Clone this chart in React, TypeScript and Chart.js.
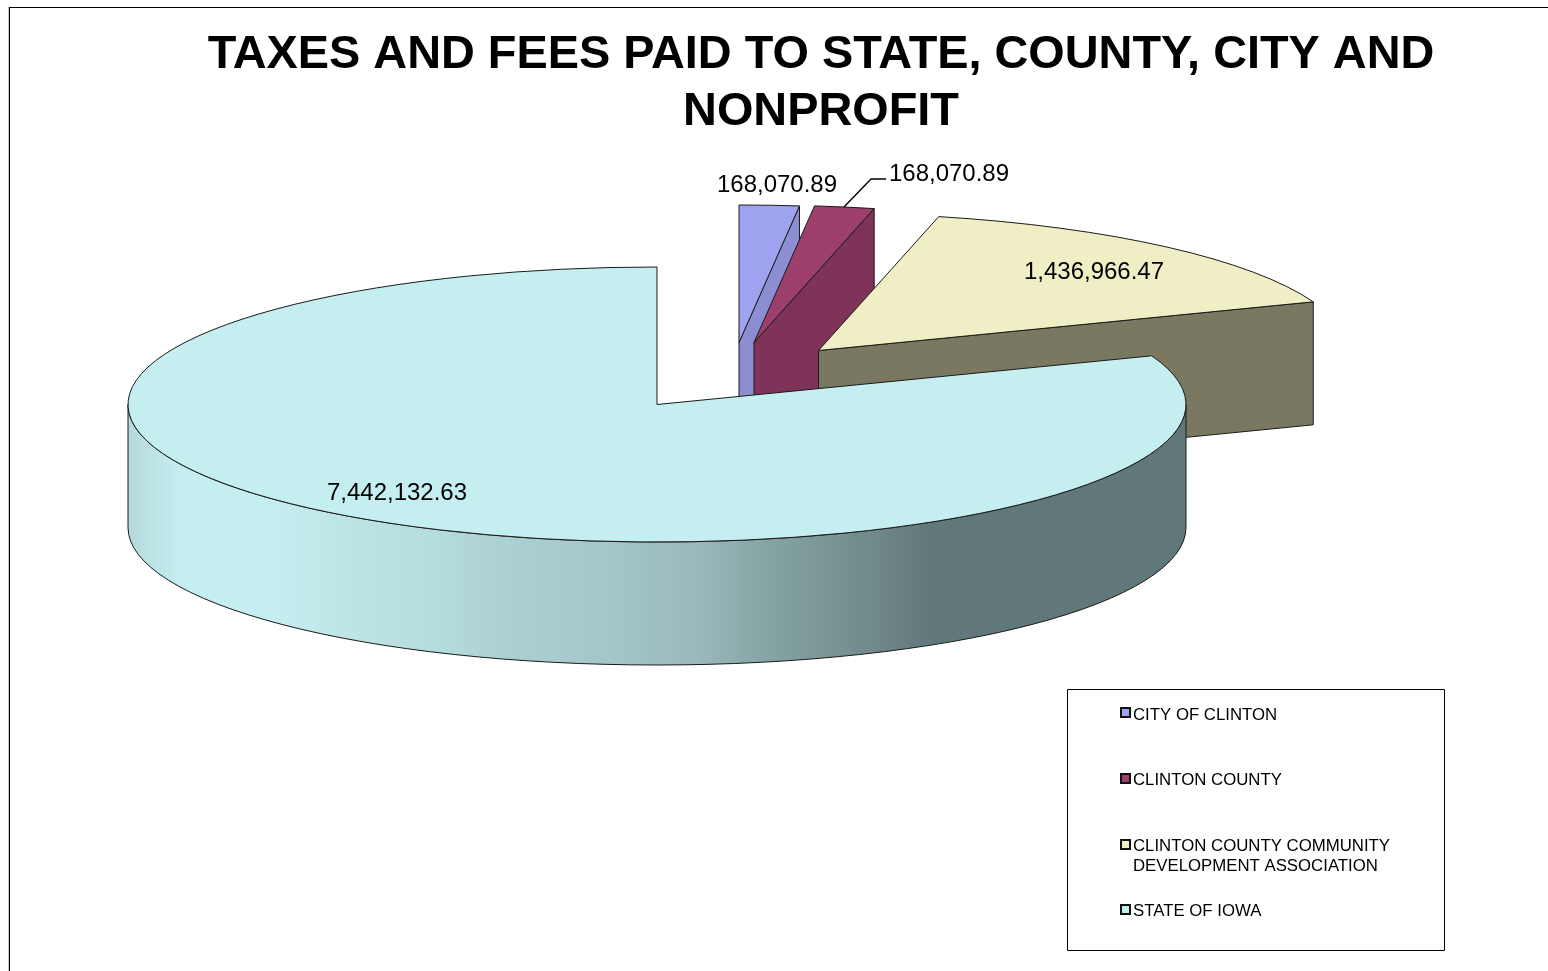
import React, { useEffect, useRef } from "react";
import { Chart, registerables } from "chart.js";

Chart.register(...registerables);

const titleLines = ["TAXES AND FEES PAID TO STATE, COUNTY, CITY AND", "NONPROFIT"];
const categories = ["CITY OF CLINTON", "CLINTON COUNTY", "CLINTON COUNTY COMMUNITY DEVELOPMENT ASSOCIATION", "STATE OF IOWA"];
const legendLines = [["CITY OF CLINTON"], ["CLINTON COUNTY"], ["CLINTON COUNTY COMMUNITY", "DEVELOPMENT ASSOCIATION"], ["STATE OF IOWA"]];
const values = [168070.89, 168070.89, 1436966.47, 7442132.63];
const topColors = ["#9FA3EF", "#9C3F6C", "#F0EEC5", "#C5EEF0"];
const sideColors = ["#8B8FD2", "#803358", "#7A7860", "#61787A"];

// 3D projection of the pie
const CX = 657, CY = 404.5, RX = 529, RY = 137.5, DEPTH = 123;
const explode = [[82, -62], [97, -62], [161.5, -54], [0, 0]];
const labelPos = [[777, 185], [949, 174], [1094, 272], [397, 493]];
const wallStops: [number, string][] = [
  [128, "#B4D9DB"], [150, "#BCE2E4"], [165, "#C0E8EA"], [182, "#C5EEF0"], [275, "#C5EEF0"],
  [295, "#C3EBED"], [335, "#BFE6E7"], [380, "#BBE1E2"], [430, "#B6DDDD"], [470, "#B0D6D7"], [520, "#ABCFD0"],
  [580, "#A6CACB"], [620, "#A2C5C7"], [700, "#9AB8BA"], [760, "#88A6A6"], [800, "#7F9C9C"],
  [860, "#738D8E"], [900, "#6A8182"], [935, "#61787A"], [1186, "#61787A"],
];

const fmt = (v: number) => v.toLocaleString("en-US", { minimumFractionDigits: 2, maximumFractionDigits: 2 });
const FONT = '"Liberation Sans", Arial, sans-serif';

const pie3d = {
  id: "pie3d",
  beforeDraw(chart: any) {
    const ctx = chart.ctx;
    ctx.save();
    ctx.fillStyle = "#fff";
    ctx.fillRect(0, 0, chart.width, chart.height);
    ctx.fillStyle = "#C8C8C8";
    ctx.fillRect(8, 7, 1, chart.height - 7);
    ctx.fillStyle = "#000";
    ctx.fillRect(9, 7, chart.width - 9, 1);
    ctx.fillRect(9, 7, 1, chart.height - 7);
    ctx.restore();
  },
  beforeDatasetsDraw(chart: any) {
    const ctx = chart.ctx;
    const arcs = chart.getDatasetMeta(0).data;
    ctx.save();
    ctx.lineWidth = 1;
    ctx.strokeStyle = "#1a1a1a";
    ctx.lineJoin = "round";
    arcs.forEach((arc: any, i: number) => {
      const [ox, oy] = explode[i];
      const ax = CX + ox, ay = CY + oy;
      const pt = (a: number) => [ax + RX * Math.cos(a), ay + RY * Math.sin(a)];
      const s = pt(arc.startAngle), e = pt(arc.endAngle);

      if (i < 3) {
        // cut face on the clockwise end of the wedge, seen from the front
        ctx.beginPath();
        ctx.moveTo(ax, ay);
        ctx.lineTo(e[0], e[1]);
        ctx.lineTo(e[0], e[1] + DEPTH);
        ctx.lineTo(ax, ay + DEPTH);
        ctx.closePath();
        ctx.fillStyle = sideColors[i];
        ctx.fill();
        ctx.stroke();
      } else {
        // outer wall over the front half of the ellipse
        const grad = ctx.createLinearGradient(CX - RX, 0, CX + RX, 0);
        wallStops.forEach(([x, c]) => grad.addColorStop((x - (CX - RX)) / (2 * RX), c));
        ctx.beginPath();
        ctx.ellipse(ax, ay, RX, RY, 0, 0, Math.PI);
        ctx.lineTo(ax - RX, ay + DEPTH);
        ctx.ellipse(ax, ay + DEPTH, RX, RY, 0, Math.PI, 0, true);
        ctx.closePath();
        ctx.fillStyle = grad;
        ctx.fill();
        ctx.stroke();
      }

      // top face: the library's own arc, squashed into the ellipse
      ctx.save();
      ctx.translate(ax, ay);
      ctx.scale(RX / arc.outerRadius, RY / arc.outerRadius);
      ctx.translate(-arc.x, -arc.y);
      arc.draw(ctx);
      ctx.restore();

      ctx.beginPath();
      ctx.moveTo(ax, ay);
      ctx.lineTo(s[0], s[1]);
      ctx.ellipse(ax, ay, RX, RY, 0, arc.startAngle, arc.endAngle);
      ctx.closePath();
      ctx.stroke();
    });

    // leader line of the county label
    ctx.save();
    ctx.strokeStyle = "#000";
    ctx.lineWidth = 1.4;
    ctx.beginPath();
    ctx.moveTo(844, 207);
    ctx.lineTo(871, 179);
    ctx.lineTo(886, 179);
    ctx.stroke();
    ctx.restore();

    // value labels
    ctx.fillStyle = "#000";
    ctx.font = `24px ${FONT}`;
    ctx.textAlign = "center";
    ctx.textBaseline = "middle";
    values.forEach((v, i) => ctx.fillText(fmt(v), labelPos[i][0], labelPos[i][1]));

    // legend
    ctx.strokeStyle = "#000";
    ctx.strokeRect(1067.5, 689.5, 377, 261);
    const rowY = [715, 780, 846, 911];
    const swatchY = [707, 773, 839, 904];
    ctx.font = `16.8px ${FONT}`;
    ctx.textAlign = "left";
    legendLines.forEach((lines, i) => {
      ctx.fillStyle = "#111";
      ctx.fillRect(1120, swatchY[i], 11, 11);
      ctx.fillStyle = topColors[i];
      ctx.fillRect(1122, swatchY[i] + 2, 7, 7);
      ctx.fillStyle = "#000";
      lines.forEach((l, j) => ctx.fillText(l, 1133, rowY[i] + j * 20));
    });
    ctx.restore();
    return false;
  },
};

export default function App() {
  const ref = useRef<HTMLCanvasElement>(null);
  useEffect(() => {
    const chart = new Chart(ref.current!, {
      type: "pie",
      data: {
        labels: categories,
        datasets: [{ data: values, backgroundColor: topColors, borderWidth: 0 }],
      },
      options: {
        responsive: false,
        animation: false,
        events: [],
        layout: { padding: { left: 94, top: 0 } },
        plugins: {
          legend: { display: false },
          tooltip: { enabled: false },
          title: {
            display: true,
            text: titleLines,
            color: "#000",
            padding: { top: 27, bottom: 0 },
            font: { family: FONT, size: 46.85, weight: "bold", lineHeight: 1.205 },
          },
        },
      },
      plugins: [pie3d],
    } as any);
    return () => chart.destroy();
  }, []);
  return (
    <div style={{ position: "absolute", left: 0, top: 0, width: 1548, height: 971, overflow: "hidden" }}>
      <canvas ref={ref} width={1548} height={971} style={{ display: "block" }} />
    </div>
  );
}
